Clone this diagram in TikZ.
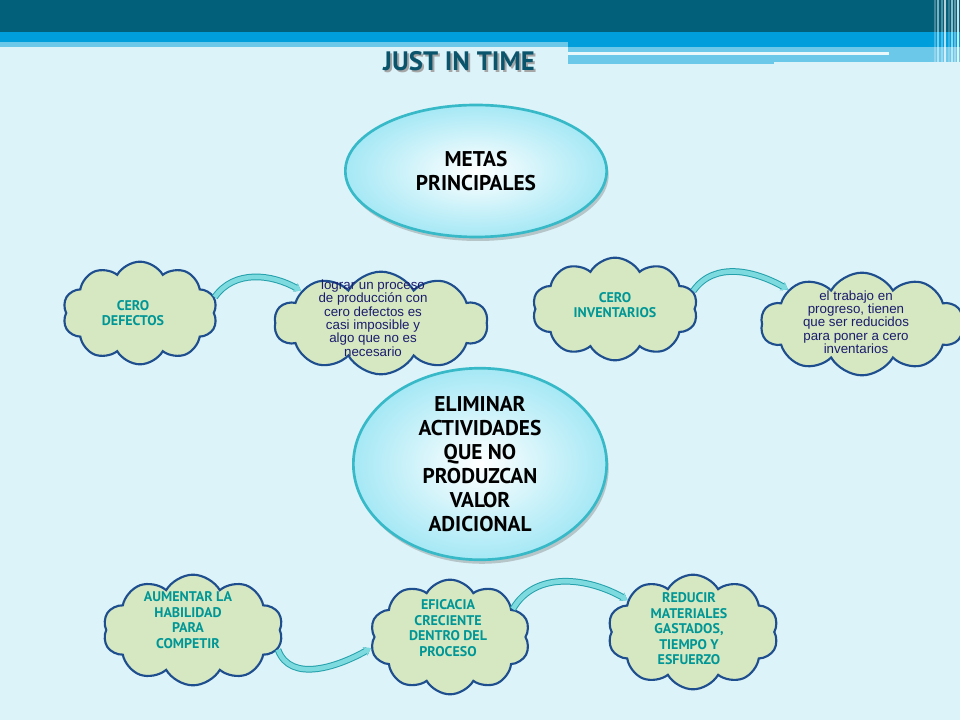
\documentclass[tikz,border=0pt]{standalone}
\usepackage{fontspec}
\setmainfont{Liberation Sans}
\newfontfamily\labelfont{PT Sans}
\usetikzlibrary{shapes.symbols,shapes.geometric,arrows.meta,shadows}

\definecolor{pagebg}{RGB}{219,243,249}
\definecolor{headdark}{RGB}{3,96,122}
\definecolor{headblue}{RGB}{0,158,219}
\definecolor{headlight}{RGB}{107,200,232}
\definecolor{titleblue}{RGB}{10,84,108}
\definecolor{cloudfill}{RGB}{213,232,193}
\definecolor{cloudline}{RGB}{30,78,142}
\definecolor{labelteal}{RGB}{0,150,150}
\definecolor{notenavy}{RGB}{28,28,110}
\definecolor{goalline}{RGB}{55,185,200}
\definecolor{goalfill}{RGB}{165,232,245}
\definecolor{linklight}{RGB}{125,218,222}
\definecolor{linkdark}{RGB}{35,160,170}

\tikzset{
	goal/.style={ellipse, draw=goalline, line width=2pt, inner color=white, outer color=goalfill,
		drop shadow={shadow xshift=1.5pt, shadow yshift=-3pt, opacity=0.4},
		align=center, inner sep=0pt, font=\labelfont\bfseries\fontsize{16}{18}\selectfont},
	bubble/.style={cloud, cloud puffs=10, cloud puff arc=120, cloud ignores aspect,
		draw=cloudline, line width=1.6pt, fill=cloudfill, inner sep=0pt},
	tagtext/.style={align=center, text=labelteal, font=\labelfont\bfseries\fontsize{10.5}{11.6}\selectfont},
	notetext/.style={align=center, text=notenavy, font=\fontsize{10}{10}\selectfont},
	link/.style={line width=3.5pt, draw=linklight, preaction={draw=linkdark, line width=5pt},
		-{Stealth[length=5pt, width=7pt]}}
}

\begin{document}
\begin{tikzpicture}[x=0.75pt, y=-0.75pt]
		\useasboundingbox (0,0) rectangle (960,720);
		\fill[pagebg] (0,0) rectangle (960,720);

		% Draw header bands
		\fill[headdark] (0,0) rectangle (960,32);
		\fill[headblue] (0,32) rectangle (960,42);
		\fill[headlight] (0,42) rectangle (568,47);
		\fill[headblue] (568,42) rectangle (960,47);
		\fill[headlight] (568,47) rectangle (960,62);
		\fill[headlight] (568,62) rectangle (774,64);
		\fill[pagebg!60!white] (568,52) rectangle (889,55);

		% Draw vertical stripes
		\foreach \x/\o in {934/0.25,937/0.5,941/0.3,944/0.7,948/0.2,951/0.55,954/0.35,957/0.8}
		\fill[white, opacity=\o] (\x,0) rectangle (\x+1.5,62);

		% Title
		\node[text=gray!70, font=\labelfont\bfseries\fontsize{20}{24}\selectfont] (titleshadow) at (461,63) {JUST IN TIME};
		\node[text=titleblue, font=\labelfont\bfseries\fontsize{20}{24}\selectfont] (title) at (459,61) {JUST IN TIME};

		% Goals
		\node[goal, minimum width=196pt, minimum height=99pt] (metas) at (476,171) {METAS\\PRINCIPALES};
		\node[goal, minimum width=190pt, minimum height=111pt] (eliminar) at (480,464)
		{ELIMINAR\\ACTIVIDADES\\QUE NO\\PRODUZCAN\\VALOR\\ADICIONAL};

		% Clouds
		\node[bubble, minimum width=116pt, minimum height=77pt] (defectos) at (140,313) {};
		\node[bubble, minimum width=160pt, minimum height=77pt] (proceso) at (381,323) {};
		\node[bubble, minimum width=124pt, minimum height=77pt] (inventarios) at (615,309) {};
		\node[bubble, minimum width=152pt, minimum height=77pt] (trabajo) at (862,324) {};
		\node[bubble, minimum width=135pt, minimum height=83pt] (aumentar) at (193,630) {};
		\node[bubble, minimum width=120pt, minimum height=86pt] (eficacia) at (450,637) {};
		\node[bubble, minimum width=128pt, minimum height=86pt] (reducir) at (693,632) {};

		% Cloud texts
		\node[tagtext] (defectostext) at (133,313) {CERO\\DEFECTOS};
		\node[notetext] (procesotext) at (373,318)
		{lograr un proceso\\de producción con\\cero defectos es\\casi imposible y\\algo que no es\\necesario};
		\node[tagtext] (inventariostext) at (615,305) {CERO\\INVENTARIOS};
		\node[notetext] (trabajotext) at (856,322)
		{el trabajo en\\progreso, tienen\\que ser reducidos\\para poner a cero\\inventarios};
		\node[tagtext] (aumentartext) at (188,620) {AUMENTAR LA\\HABILIDAD\\PARA\\COMPETIR};
		\node[tagtext] (eficaciatext) at (448,628) {EFICACIA\\CRECIENTE\\DENTRO DEL\\PROCESO};
		\node[tagtext] (reducirtext) at (689,629) {REDUCIR\\MATERIALES\\GASTADOS,\\TIEMPO Y\\ESFUERZO};

		% Links
		\draw[link] (defectos.12) to[out=55, in=150] (proceso.158);
		\draw[link] (inventarios.13) to[out=55, in=150] (trabajo.155);
		\draw[link] (aumentar.-13) to[out=-70, in=210] (eficacia.188);
		\draw[link] (eficacia.24) to[out=60, in=150] (reducir.154);
	\end{tikzpicture}
\end{document}
